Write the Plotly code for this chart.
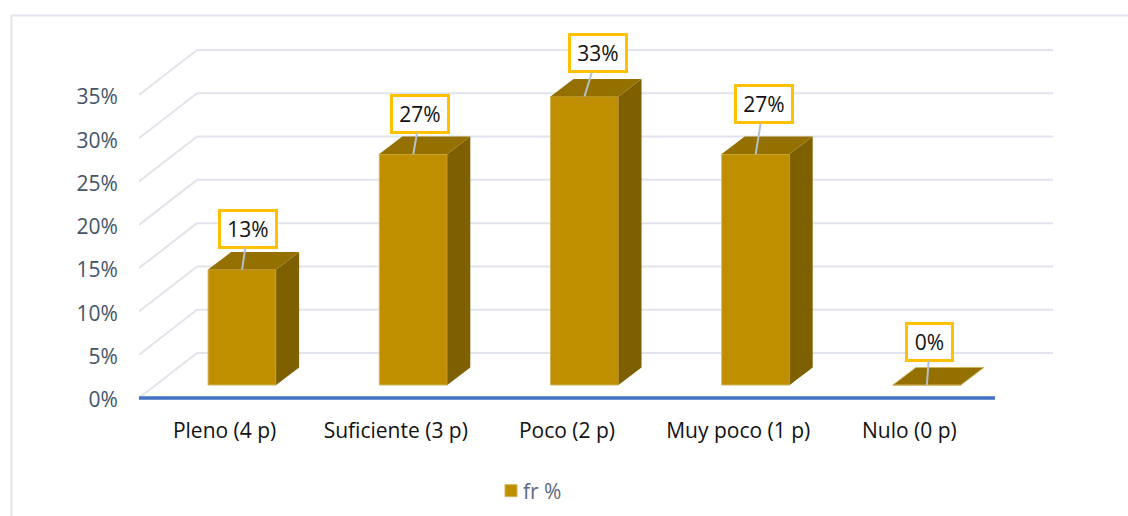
import plotly.graph_objects as go

# Data
categories = ["Pleno (4 p)", "Suficiente (3 p)", "Poco (2 p)", "Muy poco (1 p)", "Nulo (0 p)"]
values = [13.33, 26.67, 33.33, 26.67, 0]
labels = ["13%", "27%", "33%", "27%", "0%"]
y_ticks = [0, 5, 10, 15, 20, 25, 30, 35]
y_tick_text = ["0%", "5%", "10%", "15%", "20%", "25%", "30%", "35%"]
series_name = "fr %"

# Pixel geometry of the plot area and the scales it implies
W, H = 1128, 516
L, R, T, B = 139, 1053, 45, 402
PX_X = 171.2          # pixels per category
PX_Y = 303 / 35       # pixels per percent
Y0 = 398              # pixel of 0 %
DEPTH_X = 58 / PX_X   # back wall offset in data units
DEPTH_Y = 45 / PX_Y
BAR_W = 68 / PX_X
BAR_DX = 17.5 / PX_X
BAR_BASE = 13 / PX_Y
FACE_DX = 23 / PX_X
FACE_DY = 17.5 / PX_Y

FRONT, TOP, SIDE = "#BF8F00", "#937000", "#7F6000"
EDGE = "#D3B35A"
GRID = "#E1E4EC"
INK = "#44546A"
FONT = "Open Sans"

xrange_ = [-0.5, -0.5 + (R - L) / PX_X]
yrange_ = [-(B - Y0) / PX_Y, (Y0 - T) / PX_Y]


def px(x):
    return (x - L) / (R - L)


def py(y):
    return (B - y) / (B - T)


fig = go.Figure()

fig.add_trace(go.Bar(
    x=[i + BAR_DX for i in range(len(values))], y=values, base=[BAR_BASE] * len(values),
    width=BAR_W, name=series_name,
    marker=dict(color=FRONT, line=dict(color=EDGE, width=1)),
    hoverinfo="skip", showlegend=True,
))

for i, v in enumerate(values):
    x0 = i + BAR_DX - BAR_W / 2
    x1 = i + BAR_DX + BAR_W / 2
    y0 = BAR_BASE
    y1 = BAR_BASE + v
    if v > 0:
        fig.add_trace(go.Scatter(
            x=[x1, x1 + FACE_DX, x1 + FACE_DX, x1, x1],
            y=[y0, y0 + FACE_DY, y1 + FACE_DY, y1, y0],
            mode="lines", fill="toself", fillcolor=SIDE, line=dict(width=0),
            hoverinfo="skip", showlegend=False,
        ))
    fig.add_trace(go.Scatter(
        x=[x0, x1, x1 + FACE_DX, x0 + FACE_DX, x0],
        y=[y1, y1, y1 + FACE_DY, y1 + FACE_DY, y1],
        mode="lines", fill="toself", fillcolor=TOP,
        line=dict(width=1 if v == 0 else 0, color=EDGE),
        hoverinfo="skip", showlegend=False,
    ))

shapes = []
# Frame
for a, b, c, d in [(11.5, 15.5, W + 5, 15.5), (11.5, 15.5, 11.5, H + 5)]:
    shapes.append(dict(type="line", xref="paper", yref="paper", x0=px(a), y0=py(b), x1=px(c), y1=py(d),
                       line=dict(color=GRID, width=2), layer="below"))
# Gridlines: side wall + back wall
for t in y_ticks:
    shapes.append(dict(type="line", xref="x", yref="y", x0=-0.5, y0=t, x1=-0.5 + DEPTH_X, y1=t + DEPTH_Y,
                       line=dict(color=GRID, width=2), layer="below"))
    shapes.append(dict(type="line", xref="x", yref="y", x0=-0.5 + DEPTH_X, y0=t + DEPTH_Y,
                       x1=xrange_[1], y1=t + DEPTH_Y, line=dict(color=GRID, width=2), layer="below"))
# Axis line
shapes.append(dict(type="line", xref="x", yref="y", x0=-0.5, y0=0, x1=len(categories) - 0.5, y1=0,
                   line=dict(color="#4472C4", width=3.5), layer="above"))

# Data label boxes: offsets in pixels from the top-front edge of each bar
label_offsets = [(6, -41), (7, -40), (13, -43), (8, -50), (3, -43)]
label_widths = [54, 54, 54, 54, 43]
annotations = []
for i, v in enumerate(values):
    dx, dy = label_offsets[i]
    annotations.append(dict(
        x=i + BAR_DX, y=BAR_BASE + v, xref="x", yref="y", text=labels[i],
        showarrow=True, arrowhead=0, arrowwidth=2, arrowcolor="#B4BFCE",
        ax=dx, ay=dy, axref="pixel", ayref="pixel",
        font=dict(family=FONT, size=21, color="#111111"),
        bgcolor="#FFFFFF", bordercolor="#FFC000", borderwidth=3, borderpad=0,
        width=label_widths[i], height=34, align="center", valign="middle",
    ))

fig.update_layout(
    width=W, height=H, autosize=False,
    margin=dict(l=L, r=W - R, t=T, b=H - B, pad=0),
    paper_bgcolor="white", plot_bgcolor="white",
    font=dict(family=FONT, size=21, color=INK),
    barmode="overlay", shapes=shapes, annotations=annotations,
    xaxis=dict(range=xrange_, tickmode="array", tickvals=list(range(len(categories))), ticktext=categories,
               showgrid=False, zeroline=False, showline=False, ticks="outside", ticklen=10,
               tickcolor="rgba(0,0,0,0)", tickfont=dict(family=FONT, size=21, color="#111111")),
    yaxis=dict(range=yrange_, tickmode="array", tickvals=y_ticks, ticktext=y_tick_text,
               showgrid=False, zeroline=False, showline=False, ticks="outside", ticklen=16,
               ticklabelshift=2,
               tickcolor="rgba(0,0,0,0)", tickfont=dict(family=FONT, size=21, color=INK)),
    legend=dict(orientation="h", xref="container", yref="container",
                x=533 / W, y=1 - 491 / H, xanchor="center", yanchor="middle",
                font=dict(family=FONT, size=21, color="#5B6B82"), itemwidth=30,
                bgcolor="rgba(0,0,0,0)"),
)

post = """
document.body.style.margin = '0';
var gd = document.getElementById('{plot_id}');
function tightenLegend() {
  gd.querySelectorAll('.legendtext').forEach(function (t) { t.setAttribute('x', '32'); });
}
gd.on('plotly_afterplot', tightenLegend);
tightenLegend();
"""
fig.write_html("out.html", config=dict(displayModeBar=False), post_script=post)
